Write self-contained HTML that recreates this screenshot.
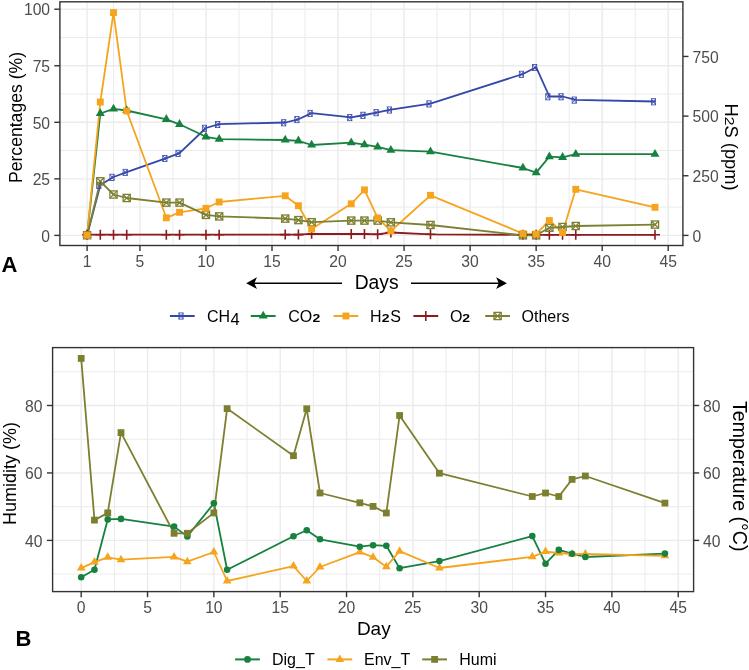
<!DOCTYPE html><html><head><meta charset="utf-8"><style>html,body{margin:0;padding:0;background:#fff;}svg{display:block;filter:blur(0.35px);}text{font-family:"Liberation Sans", sans-serif;}</style></head><body>
<svg width="749" height="670" viewBox="0 0 749 670">
<rect width="749" height="670" fill="#fff"/>
<g stroke="#EBEBEB">
<line x1="59.9" x2="682.9" y1="207.12" y2="207.12" stroke-width="1.0"/>
<line x1="59.9" x2="682.9" y1="150.57" y2="150.57" stroke-width="1.0"/>
<line x1="59.9" x2="682.9" y1="94.03" y2="94.03" stroke-width="1.0"/>
<line x1="59.9" x2="682.9" y1="37.47" y2="37.47" stroke-width="1.0"/>
<line y1="1.8" y2="245.5" x1="113.51" x2="113.51" stroke-width="1.0"/>
<line y1="1.8" y2="245.5" x1="172.95" x2="172.95" stroke-width="1.0"/>
<line y1="1.8" y2="245.5" x1="238.98" x2="238.98" stroke-width="1.0"/>
<line y1="1.8" y2="245.5" x1="305.02" x2="305.02" stroke-width="1.0"/>
<line y1="1.8" y2="245.5" x1="371.05" x2="371.05" stroke-width="1.0"/>
<line y1="1.8" y2="245.5" x1="437.09" x2="437.09" stroke-width="1.0"/>
<line y1="1.8" y2="245.5" x1="503.12" x2="503.12" stroke-width="1.0"/>
<line y1="1.8" y2="245.5" x1="569.16" x2="569.16" stroke-width="1.0"/>
<line y1="1.8" y2="245.5" x1="635.19" x2="635.19" stroke-width="1.0"/>
<line x1="59.9" x2="682.9" y1="235.4" y2="235.4" stroke-width="1.4"/>
<line x1="59.9" x2="682.9" y1="178.85" y2="178.85" stroke-width="1.4"/>
<line x1="59.9" x2="682.9" y1="122.3" y2="122.3" stroke-width="1.4"/>
<line x1="59.9" x2="682.9" y1="65.75" y2="65.75" stroke-width="1.4"/>
<line x1="59.9" x2="682.9" y1="9.2" y2="9.2" stroke-width="1.4"/>
<line y1="1.8" y2="245.5" x1="87.1" x2="87.1" stroke-width="1.4"/>
<line y1="1.8" y2="245.5" x1="139.93" x2="139.93" stroke-width="1.4"/>
<line y1="1.8" y2="245.5" x1="205.96" x2="205.96" stroke-width="1.4"/>
<line y1="1.8" y2="245.5" x1="272" x2="272" stroke-width="1.4"/>
<line y1="1.8" y2="245.5" x1="338.03" x2="338.03" stroke-width="1.4"/>
<line y1="1.8" y2="245.5" x1="404.07" x2="404.07" stroke-width="1.4"/>
<line y1="1.8" y2="245.5" x1="470.1" x2="470.1" stroke-width="1.4"/>
<line y1="1.8" y2="245.5" x1="536.14" x2="536.14" stroke-width="1.4"/>
<line y1="1.8" y2="245.5" x1="602.17" x2="602.17" stroke-width="1.4"/>
<line y1="1.8" y2="245.5" x1="668.21" x2="668.21" stroke-width="1.4"/>
</g>
<polyline points="87.1,235.3 100.31,185 113.51,177 126.72,172.1 166.34,158.2 179.55,153.1 205.96,128 219.17,124.2 285.21,122.5 298.41,119.3 311.62,113.1 351.24,117.3 364.45,115 377.65,112.4 390.86,109.7 430.48,103.6 522.93,74 536.14,67.2 549.35,96.5 562.55,96.5 575.76,99.8 655,101.5" fill="none" stroke="#3447A8" stroke-width="1.8" stroke-linejoin="round" stroke-linecap="butt"/>
<polyline points="87.1,235.3 100.31,113.5 113.51,108.9 126.72,110.5 166.34,119.3 179.55,124.3 205.96,136.8 219.17,139.1 285.21,140 298.41,140.8 311.62,145 351.24,142.7 364.45,144.6 377.65,146.9 390.86,150.1 430.48,151.6 522.93,168 536.14,172.6 549.35,156.6 562.55,157.3 575.76,154.2 655,154.2" fill="none" stroke="#17813F" stroke-width="1.8" stroke-linejoin="round" stroke-linecap="butt"/>
<polyline points="87.1,235.2 100.31,102 113.51,12.6 126.72,111 166.34,217.8 179.55,212.3 205.96,208.3 219.17,202 285.21,195.8 298.41,205.7 311.62,229 351.24,203.8 364.45,189.9 377.65,217.9 390.86,231 430.48,195.3 522.93,233.6 536.14,234.1 549.35,220.5 562.55,232.5 575.76,189.3 655,207.3" fill="none" stroke="#F6A41E" stroke-width="1.8" stroke-linejoin="round" stroke-linecap="butt"/>
<polyline points="87.1,234.7 100.31,234.7 113.51,234.7 126.72,234.7 166.34,234.7 179.55,234.7 205.96,234.7 219.17,234.7 285.21,234.6 298.41,234.6 311.62,233.8 351.24,234 364.45,234 377.65,234.3 390.86,232.5 430.48,234.3 522.93,234.8 536.14,234.8 549.35,234.8 562.55,234.8 575.76,234.8 655,234.8" fill="none" stroke="#8B1B1F" stroke-width="1.8" stroke-linejoin="round" stroke-linecap="butt"/>
<polyline points="87.1,235.2 100.31,181.3 113.51,194.5 126.72,198 166.34,202.6 179.55,202.6 205.96,214.9 219.17,216.4 285.21,218.6 298.41,220.1 311.62,222.2 351.24,220.6 364.45,220.6 377.65,220.6 390.86,222.3 430.48,225 522.93,235.3 536.14,235.3 549.35,227.8 562.55,227 575.76,226 655,224.6" fill="none" stroke="#7D8032" stroke-width="1.8" stroke-linejoin="round" stroke-linecap="butt"/>
<g stroke="#3447A8" stroke-width="0.8" fill="none"><rect x="83.5" y="232.5" width="4.2" height="6.2"/><path d="M83.5 232.5L87.7 238.7M83.5 238.7L87.7 232.5"/></g>
<g stroke="#3447A8" stroke-width="0.8" fill="none"><rect x="96.71" y="182.2" width="4.2" height="6.2"/><path d="M96.71 182.2L100.91 188.4M96.71 188.4L100.91 182.2"/></g>
<g stroke="#3447A8" stroke-width="0.8" fill="none"><rect x="109.91" y="174.2" width="4.2" height="6.2"/><path d="M109.91 174.2L114.11 180.4M109.91 180.4L114.11 174.2"/></g>
<g stroke="#3447A8" stroke-width="0.8" fill="none"><rect x="123.12" y="169.3" width="4.2" height="6.2"/><path d="M123.12 169.3L127.32 175.5M123.12 175.5L127.32 169.3"/></g>
<g stroke="#3447A8" stroke-width="0.8" fill="none"><rect x="162.74" y="155.4" width="4.2" height="6.2"/><path d="M162.74 155.4L166.94 161.6M162.74 161.6L166.94 155.4"/></g>
<g stroke="#3447A8" stroke-width="0.8" fill="none"><rect x="175.95" y="150.3" width="4.2" height="6.2"/><path d="M175.95 150.3L180.15 156.5M175.95 156.5L180.15 150.3"/></g>
<g stroke="#3447A8" stroke-width="0.8" fill="none"><rect x="202.36" y="125.2" width="4.2" height="6.2"/><path d="M202.36 125.2L206.56 131.4M202.36 131.4L206.56 125.2"/></g>
<g stroke="#3447A8" stroke-width="0.8" fill="none"><rect x="215.57" y="121.4" width="4.2" height="6.2"/><path d="M215.57 121.4L219.77 127.6M215.57 127.6L219.77 121.4"/></g>
<g stroke="#3447A8" stroke-width="0.8" fill="none"><rect x="281.61" y="119.7" width="4.2" height="6.2"/><path d="M281.61 119.7L285.81 125.9M281.61 125.9L285.81 119.7"/></g>
<g stroke="#3447A8" stroke-width="0.8" fill="none"><rect x="294.81" y="116.5" width="4.2" height="6.2"/><path d="M294.81 116.5L299.01 122.7M294.81 122.7L299.01 116.5"/></g>
<g stroke="#3447A8" stroke-width="0.8" fill="none"><rect x="308.02" y="110.3" width="4.2" height="6.2"/><path d="M308.02 110.3L312.22 116.5M308.02 116.5L312.22 110.3"/></g>
<g stroke="#3447A8" stroke-width="0.8" fill="none"><rect x="347.64" y="114.5" width="4.2" height="6.2"/><path d="M347.64 114.5L351.84 120.7M347.64 120.7L351.84 114.5"/></g>
<g stroke="#3447A8" stroke-width="0.8" fill="none"><rect x="360.85" y="112.2" width="4.2" height="6.2"/><path d="M360.85 112.2L365.05 118.4M360.85 118.4L365.05 112.2"/></g>
<g stroke="#3447A8" stroke-width="0.8" fill="none"><rect x="374.05" y="109.6" width="4.2" height="6.2"/><path d="M374.05 109.6L378.25 115.8M374.05 115.8L378.25 109.6"/></g>
<g stroke="#3447A8" stroke-width="0.8" fill="none"><rect x="387.26" y="106.9" width="4.2" height="6.2"/><path d="M387.26 106.9L391.46 113.1M387.26 113.1L391.46 106.9"/></g>
<g stroke="#3447A8" stroke-width="0.8" fill="none"><rect x="426.88" y="100.8" width="4.2" height="6.2"/><path d="M426.88 100.8L431.08 107M426.88 107L431.08 100.8"/></g>
<g stroke="#3447A8" stroke-width="0.8" fill="none"><rect x="519.33" y="71.2" width="4.2" height="6.2"/><path d="M519.33 71.2L523.53 77.4M519.33 77.4L523.53 71.2"/></g>
<g stroke="#3447A8" stroke-width="0.8" fill="none"><rect x="532.54" y="64.4" width="4.2" height="6.2"/><path d="M532.54 64.4L536.74 70.6M532.54 70.6L536.74 64.4"/></g>
<g stroke="#3447A8" stroke-width="0.8" fill="none"><rect x="545.75" y="93.7" width="4.2" height="6.2"/><path d="M545.75 93.7L549.95 99.9M545.75 99.9L549.95 93.7"/></g>
<g stroke="#3447A8" stroke-width="0.8" fill="none"><rect x="558.95" y="93.7" width="4.2" height="6.2"/><path d="M558.95 93.7L563.15 99.9M558.95 99.9L563.15 93.7"/></g>
<g stroke="#3447A8" stroke-width="0.8" fill="none"><rect x="572.16" y="97" width="4.2" height="6.2"/><path d="M572.16 97L576.36 103.2M572.16 103.2L576.36 97"/></g>
<g stroke="#3447A8" stroke-width="0.8" fill="none"><rect x="651.4" y="98.7" width="4.2" height="6.2"/><path d="M651.4 98.7L655.6 104.9M651.4 104.9L655.6 98.7"/></g>
<polygon points="87.1,230.1 91.6,237.9 82.6,237.9" fill="#17813F"/>
<polygon points="100.31,108.3 104.81,116.1 95.8,116.1" fill="#17813F"/>
<polygon points="113.51,103.7 118.02,111.5 109.01,111.5" fill="#17813F"/>
<polygon points="126.72,105.3 131.22,113.1 122.22,113.1" fill="#17813F"/>
<polygon points="166.34,114.1 170.85,121.9 161.84,121.9" fill="#17813F"/>
<polygon points="179.55,119.1 184.05,126.9 175.05,126.9" fill="#17813F"/>
<polygon points="205.96,131.6 210.47,139.4 201.46,139.4" fill="#17813F"/>
<polygon points="219.17,133.9 223.67,141.7 214.67,141.7" fill="#17813F"/>
<polygon points="285.21,134.8 289.71,142.6 280.7,142.6" fill="#17813F"/>
<polygon points="298.41,135.6 302.92,143.4 293.91,143.4" fill="#17813F"/>
<polygon points="311.62,139.8 316.12,147.6 307.12,147.6" fill="#17813F"/>
<polygon points="351.24,137.5 355.74,145.3 346.74,145.3" fill="#17813F"/>
<polygon points="364.45,139.4 368.95,147.2 359.94,147.2" fill="#17813F"/>
<polygon points="377.65,141.7 382.16,149.5 373.15,149.5" fill="#17813F"/>
<polygon points="390.86,144.9 395.36,152.7 386.36,152.7" fill="#17813F"/>
<polygon points="430.48,146.4 434.99,154.2 425.98,154.2" fill="#17813F"/>
<polygon points="522.93,162.8 527.43,170.6 518.43,170.6" fill="#17813F"/>
<polygon points="536.14,167.4 540.64,175.2 531.63,175.2" fill="#17813F"/>
<polygon points="549.35,151.4 553.85,159.2 544.84,159.2" fill="#17813F"/>
<polygon points="562.55,152.1 567.06,159.9 558.05,159.9" fill="#17813F"/>
<polygon points="575.76,149 580.26,156.8 571.26,156.8" fill="#17813F"/>
<polygon points="655,149 659.5,156.8 650.5,156.8" fill="#17813F"/>
<path d="M82.1 234.7L92.1 234.7M87.1 229.7L87.1 239.7" stroke="#8B1B1F" stroke-width="1.6"/>
<path d="M95.31 234.7L105.31 234.7M100.31 229.7L100.31 239.7" stroke="#8B1B1F" stroke-width="1.6"/>
<path d="M108.51 234.7L118.51 234.7M113.51 229.7L113.51 239.7" stroke="#8B1B1F" stroke-width="1.6"/>
<path d="M121.72 234.7L131.72 234.7M126.72 229.7L126.72 239.7" stroke="#8B1B1F" stroke-width="1.6"/>
<path d="M161.34 234.7L171.34 234.7M166.34 229.7L166.34 239.7" stroke="#8B1B1F" stroke-width="1.6"/>
<path d="M174.55 234.7L184.55 234.7M179.55 229.7L179.55 239.7" stroke="#8B1B1F" stroke-width="1.6"/>
<path d="M200.96 234.7L210.96 234.7M205.96 229.7L205.96 239.7" stroke="#8B1B1F" stroke-width="1.6"/>
<path d="M214.17 234.7L224.17 234.7M219.17 229.7L219.17 239.7" stroke="#8B1B1F" stroke-width="1.6"/>
<path d="M280.21 234.6L290.21 234.6M285.21 229.6L285.21 239.6" stroke="#8B1B1F" stroke-width="1.6"/>
<path d="M293.41 234.6L303.41 234.6M298.41 229.6L298.41 239.6" stroke="#8B1B1F" stroke-width="1.6"/>
<path d="M306.62 233.8L316.62 233.8M311.62 228.8L311.62 238.8" stroke="#8B1B1F" stroke-width="1.6"/>
<path d="M346.24 234L356.24 234M351.24 229L351.24 239" stroke="#8B1B1F" stroke-width="1.6"/>
<path d="M359.45 234L369.45 234M364.45 229L364.45 239" stroke="#8B1B1F" stroke-width="1.6"/>
<path d="M372.65 234.3L382.65 234.3M377.65 229.3L377.65 239.3" stroke="#8B1B1F" stroke-width="1.6"/>
<path d="M385.86 232.5L395.86 232.5M390.86 227.5L390.86 237.5" stroke="#8B1B1F" stroke-width="1.6"/>
<path d="M425.48 234.3L435.48 234.3M430.48 229.3L430.48 239.3" stroke="#8B1B1F" stroke-width="1.6"/>
<path d="M517.93 234.8L527.93 234.8M522.93 229.8L522.93 239.8" stroke="#8B1B1F" stroke-width="1.6"/>
<path d="M531.14 234.8L541.14 234.8M536.14 229.8L536.14 239.8" stroke="#8B1B1F" stroke-width="1.6"/>
<path d="M544.35 234.8L554.35 234.8M549.35 229.8L549.35 239.8" stroke="#8B1B1F" stroke-width="1.6"/>
<path d="M557.55 234.8L567.55 234.8M562.55 229.8L562.55 239.8" stroke="#8B1B1F" stroke-width="1.6"/>
<path d="M570.76 234.8L580.76 234.8M575.76 229.8L575.76 239.8" stroke="#8B1B1F" stroke-width="1.6"/>
<path d="M650 234.8L660 234.8M655 229.8L655 239.8" stroke="#8B1B1F" stroke-width="1.6"/>
<g stroke="#7D8032" stroke-width="1.3" fill="none"><rect x="83.5" y="231.6" width="7.2" height="7.2"/><path d="M83.5 231.6L90.7 238.8M83.5 238.8L90.7 231.6"/></g>
<g stroke="#7D8032" stroke-width="1.3" fill="none"><rect x="96.71" y="177.7" width="7.2" height="7.2"/><path d="M96.71 177.7L103.91 184.9M96.71 184.9L103.91 177.7"/></g>
<g stroke="#7D8032" stroke-width="1.3" fill="none"><rect x="109.91" y="190.9" width="7.2" height="7.2"/><path d="M109.91 190.9L117.11 198.1M109.91 198.1L117.11 190.9"/></g>
<g stroke="#7D8032" stroke-width="1.3" fill="none"><rect x="123.12" y="194.4" width="7.2" height="7.2"/><path d="M123.12 194.4L130.32 201.6M123.12 201.6L130.32 194.4"/></g>
<g stroke="#7D8032" stroke-width="1.3" fill="none"><rect x="162.74" y="199" width="7.2" height="7.2"/><path d="M162.74 199L169.94 206.2M162.74 206.2L169.94 199"/></g>
<g stroke="#7D8032" stroke-width="1.3" fill="none"><rect x="175.95" y="199" width="7.2" height="7.2"/><path d="M175.95 199L183.15 206.2M175.95 206.2L183.15 199"/></g>
<g stroke="#7D8032" stroke-width="1.3" fill="none"><rect x="202.36" y="211.3" width="7.2" height="7.2"/><path d="M202.36 211.3L209.56 218.5M202.36 218.5L209.56 211.3"/></g>
<g stroke="#7D8032" stroke-width="1.3" fill="none"><rect x="215.57" y="212.8" width="7.2" height="7.2"/><path d="M215.57 212.8L222.77 220M215.57 220L222.77 212.8"/></g>
<g stroke="#7D8032" stroke-width="1.3" fill="none"><rect x="281.61" y="215" width="7.2" height="7.2"/><path d="M281.61 215L288.81 222.2M281.61 222.2L288.81 215"/></g>
<g stroke="#7D8032" stroke-width="1.3" fill="none"><rect x="294.81" y="216.5" width="7.2" height="7.2"/><path d="M294.81 216.5L302.01 223.7M294.81 223.7L302.01 216.5"/></g>
<g stroke="#7D8032" stroke-width="1.3" fill="none"><rect x="308.02" y="218.6" width="7.2" height="7.2"/><path d="M308.02 218.6L315.22 225.8M308.02 225.8L315.22 218.6"/></g>
<g stroke="#7D8032" stroke-width="1.3" fill="none"><rect x="347.64" y="217" width="7.2" height="7.2"/><path d="M347.64 217L354.84 224.2M347.64 224.2L354.84 217"/></g>
<g stroke="#7D8032" stroke-width="1.3" fill="none"><rect x="360.85" y="217" width="7.2" height="7.2"/><path d="M360.85 217L368.05 224.2M360.85 224.2L368.05 217"/></g>
<g stroke="#7D8032" stroke-width="1.3" fill="none"><rect x="374.05" y="217" width="7.2" height="7.2"/><path d="M374.05 217L381.25 224.2M374.05 224.2L381.25 217"/></g>
<g stroke="#7D8032" stroke-width="1.3" fill="none"><rect x="387.26" y="218.7" width="7.2" height="7.2"/><path d="M387.26 218.7L394.46 225.9M387.26 225.9L394.46 218.7"/></g>
<g stroke="#7D8032" stroke-width="1.3" fill="none"><rect x="426.88" y="221.4" width="7.2" height="7.2"/><path d="M426.88 221.4L434.08 228.6M426.88 228.6L434.08 221.4"/></g>
<g stroke="#7D8032" stroke-width="1.3" fill="none"><rect x="519.33" y="231.7" width="7.2" height="7.2"/><path d="M519.33 231.7L526.53 238.9M519.33 238.9L526.53 231.7"/></g>
<g stroke="#7D8032" stroke-width="1.3" fill="none"><rect x="532.54" y="231.7" width="7.2" height="7.2"/><path d="M532.54 231.7L539.74 238.9M532.54 238.9L539.74 231.7"/></g>
<g stroke="#7D8032" stroke-width="1.3" fill="none"><rect x="545.75" y="224.2" width="7.2" height="7.2"/><path d="M545.75 224.2L552.95 231.4M545.75 231.4L552.95 224.2"/></g>
<g stroke="#7D8032" stroke-width="1.3" fill="none"><rect x="558.95" y="223.4" width="7.2" height="7.2"/><path d="M558.95 223.4L566.15 230.6M558.95 230.6L566.15 223.4"/></g>
<g stroke="#7D8032" stroke-width="1.3" fill="none"><rect x="572.16" y="222.4" width="7.2" height="7.2"/><path d="M572.16 222.4L579.36 229.6M572.16 229.6L579.36 222.4"/></g>
<g stroke="#7D8032" stroke-width="1.3" fill="none"><rect x="651.4" y="221" width="7.2" height="7.2"/><path d="M651.4 221L658.6 228.2M651.4 228.2L658.6 221"/></g>
<rect x="83.65" y="231.75" width="6.9" height="6.9" fill="#F6A41E"/>
<rect x="96.86" y="98.55" width="6.9" height="6.9" fill="#F6A41E"/>
<rect x="110.06" y="9.15" width="6.9" height="6.9" fill="#F6A41E"/>
<rect x="123.27" y="107.55" width="6.9" height="6.9" fill="#F6A41E"/>
<rect x="162.89" y="214.35" width="6.9" height="6.9" fill="#F6A41E"/>
<rect x="176.1" y="208.85" width="6.9" height="6.9" fill="#F6A41E"/>
<rect x="202.51" y="204.85" width="6.9" height="6.9" fill="#F6A41E"/>
<rect x="215.72" y="198.55" width="6.9" height="6.9" fill="#F6A41E"/>
<rect x="281.76" y="192.35" width="6.9" height="6.9" fill="#F6A41E"/>
<rect x="294.96" y="202.25" width="6.9" height="6.9" fill="#F6A41E"/>
<rect x="308.17" y="225.55" width="6.9" height="6.9" fill="#F6A41E"/>
<rect x="347.79" y="200.35" width="6.9" height="6.9" fill="#F6A41E"/>
<rect x="361" y="186.45" width="6.9" height="6.9" fill="#F6A41E"/>
<rect x="374.2" y="214.45" width="6.9" height="6.9" fill="#F6A41E"/>
<rect x="387.41" y="227.55" width="6.9" height="6.9" fill="#F6A41E"/>
<rect x="427.03" y="191.85" width="6.9" height="6.9" fill="#F6A41E"/>
<rect x="519.48" y="230.15" width="6.9" height="6.9" fill="#F6A41E"/>
<rect x="532.69" y="230.65" width="6.9" height="6.9" fill="#F6A41E"/>
<rect x="545.89" y="217.05" width="6.9" height="6.9" fill="#F6A41E"/>
<rect x="559.1" y="229.05" width="6.9" height="6.9" fill="#F6A41E"/>
<rect x="572.31" y="185.85" width="6.9" height="6.9" fill="#F6A41E"/>
<rect x="651.55" y="203.85" width="6.9" height="6.9" fill="#F6A41E"/>
<rect x="59.9" y="1.8" width="623" height="243.7" fill="none" stroke="#333333" stroke-width="1.4"/>
<g stroke="#333333" stroke-width="1.4">
<line x1="54.3" x2="59.9" y1="235.4" y2="235.4"/>
<line x1="54.3" x2="59.9" y1="178.85" y2="178.85"/>
<line x1="54.3" x2="59.9" y1="122.3" y2="122.3"/>
<line x1="54.3" x2="59.9" y1="65.75" y2="65.75"/>
<line x1="54.3" x2="59.9" y1="9.2" y2="9.2"/>
<line x1="682.9" x2="688.5" y1="235.4" y2="235.4"/>
<line x1="682.9" x2="688.5" y1="175.75" y2="175.75"/>
<line x1="682.9" x2="688.5" y1="116.1" y2="116.1"/>
<line x1="682.9" x2="688.5" y1="56.45" y2="56.45"/>
<line y1="245.5" y2="251.1" x1="87.1" x2="87.1"/>
<line y1="245.5" y2="251.1" x1="139.93" x2="139.93"/>
<line y1="245.5" y2="251.1" x1="205.96" x2="205.96"/>
<line y1="245.5" y2="251.1" x1="272" x2="272"/>
<line y1="245.5" y2="251.1" x1="338.03" x2="338.03"/>
<line y1="245.5" y2="251.1" x1="404.07" x2="404.07"/>
<line y1="245.5" y2="251.1" x1="470.1" x2="470.1"/>
<line y1="245.5" y2="251.1" x1="536.14" x2="536.14"/>
<line y1="245.5" y2="251.1" x1="602.17" x2="602.17"/>
<line y1="245.5" y2="251.1" x1="668.21" x2="668.21"/>
</g>
<g fill="#4D4D4D" font-size="15.7">
<text x="50.1" y="241.6" text-anchor="end">0</text>
<text x="50.1" y="185.05" text-anchor="end">25</text>
<text x="50.1" y="128.5" text-anchor="end">50</text>
<text x="50.1" y="71.95" text-anchor="end">75</text>
<text x="50.1" y="15.4" text-anchor="end">100</text>
<text x="692.5" y="241.6">0</text>
<text x="692.5" y="181.95">250</text>
<text x="692.5" y="122.3">500</text>
<text x="692.5" y="62.65">750</text>
<text x="87.1" y="266.5" text-anchor="middle">1</text>
<text x="139.93" y="266.5" text-anchor="middle">5</text>
<text x="205.96" y="266.5" text-anchor="middle">10</text>
<text x="272" y="266.5" text-anchor="middle">15</text>
<text x="338.03" y="266.5" text-anchor="middle">20</text>
<text x="404.07" y="266.5" text-anchor="middle">25</text>
<text x="470.1" y="266.5" text-anchor="middle">30</text>
<text x="536.14" y="266.5" text-anchor="middle">35</text>
<text x="602.17" y="266.5" text-anchor="middle">40</text>
<text x="668.21" y="266.5" text-anchor="middle">45</text>
</g>
<text transform="translate(22.3,117.5) rotate(-90)" text-anchor="middle" font-size="17.6" fill="#000">Percentages (%)</text>
<g transform="translate(725.4,0) rotate(90)" font-size="18.3" fill="#000"><text x="103.6" y="0">H</text><text transform="translate(116.8,0) scale(1.28,1)" font-size="12.4">2</text><text x="125.6" y="0">S (ppm)</text></g>
<text x="1.4" y="271.9" font-size="22" font-weight="bold" fill="#000">A</text>
<text x="376.6" y="288.6" text-anchor="middle" font-size="19.3" fill="#000">Days</text>
<g stroke="#000" stroke-width="1.4"><line x1="252" x2="342" y1="283.2" y2="283.2"/><line x1="411" x2="501" y1="283.2" y2="283.2"/></g>
<polygon points="246.2,283.2 257,277.3 254.3,283.2 257,289.1" fill="#000"/>
<polygon points="506.9,283.2 496.1,277.3 498.8,283.2 496.1,289.1" fill="#000"/>
<line x1="169.9" x2="194.70000000000002" y1="316" y2="316" stroke="#3447A8" stroke-width="2"/>
<g stroke="#3447A8" stroke-width="0.8" fill="none"><rect x="178.9" y="312.9" width="4.2" height="6.2"/><path d="M178.9 312.9L183.1 319.1M178.9 319.1L183.1 312.9"/></g>
<line x1="250.8" x2="275.6" y1="316" y2="316" stroke="#17813F" stroke-width="2"/>
<polygon points="263.2,310.8 267.7,318.6 258.7,318.6" fill="#17813F"/>
<line x1="333.5" x2="358.3" y1="316" y2="316" stroke="#F6A41E" stroke-width="2"/>
<rect x="342.45" y="312.55" width="6.9" height="6.9" fill="#F6A41E"/>
<line x1="413.4" x2="438.2" y1="316" y2="316" stroke="#8B1B1F" stroke-width="2"/>
<path d="M420.8 316L430.8 316M425.8 311L425.8 321" stroke="#8B1B1F" stroke-width="1.6"/>
<line x1="485.2" x2="510.0" y1="316" y2="316" stroke="#7D8032" stroke-width="2"/>
<g stroke="#7D8032" stroke-width="1.3" fill="none"><rect x="494" y="312.4" width="7.2" height="7.2"/><path d="M494 312.4L501.2 319.6M494 319.6L501.2 312.4"/></g>
<g font-size="16" fill="#000">
<text x="207" y="322">CH</text><text x="230.6" y="325" font-size="16.5">4</text>
<text x="288.3" y="322">CO</text><text transform="translate(312.4,322) scale(1.25,1)" font-size="11.2" font-weight="bold">2</text>
<text x="369.9" y="322">H</text><text transform="translate(381.8,322) scale(1.25,1)" font-size="11.2" font-weight="bold">2</text><text x="390.2" y="322">S</text>
<text x="450" y="322">O</text><text transform="translate(462.2,322) scale(1.25,1)" font-size="11.2" font-weight="bold">2</text>
<text x="521.5" y="322">Others</text>
</g>
<g stroke="#EBEBEB">
<line x1="52.6" x2="693.6" y1="574.12" y2="574.12" stroke-width="1.0"/>
<line x1="52.6" x2="693.6" y1="506.67" y2="506.67" stroke-width="1.0"/>
<line x1="52.6" x2="693.6" y1="439.22" y2="439.22" stroke-width="1.0"/>
<line x1="52.6" x2="693.6" y1="371.77" y2="371.77" stroke-width="1.0"/>
<line y1="347.6" y2="591.6" x1="114.37" x2="114.37" stroke-width="1.0"/>
<line y1="347.6" y2="591.6" x1="180.7" x2="180.7" stroke-width="1.0"/>
<line y1="347.6" y2="591.6" x1="247.04" x2="247.04" stroke-width="1.0"/>
<line y1="347.6" y2="591.6" x1="313.37" x2="313.37" stroke-width="1.0"/>
<line y1="347.6" y2="591.6" x1="379.71" x2="379.71" stroke-width="1.0"/>
<line y1="347.6" y2="591.6" x1="446.04" x2="446.04" stroke-width="1.0"/>
<line y1="347.6" y2="591.6" x1="512.38" x2="512.38" stroke-width="1.0"/>
<line y1="347.6" y2="591.6" x1="578.71" x2="578.71" stroke-width="1.0"/>
<line y1="347.6" y2="591.6" x1="645.05" x2="645.05" stroke-width="1.0"/>
<line x1="52.6" x2="693.6" y1="540.4" y2="540.4" stroke-width="1.4"/>
<line x1="52.6" x2="693.6" y1="472.95" y2="472.95" stroke-width="1.4"/>
<line x1="52.6" x2="693.6" y1="405.5" y2="405.5" stroke-width="1.4"/>
<line y1="347.6" y2="591.6" x1="81.2" x2="81.2" stroke-width="1.4"/>
<line y1="347.6" y2="591.6" x1="147.53" x2="147.53" stroke-width="1.4"/>
<line y1="347.6" y2="591.6" x1="213.87" x2="213.87" stroke-width="1.4"/>
<line y1="347.6" y2="591.6" x1="280.2" x2="280.2" stroke-width="1.4"/>
<line y1="347.6" y2="591.6" x1="346.54" x2="346.54" stroke-width="1.4"/>
<line y1="347.6" y2="591.6" x1="412.88" x2="412.88" stroke-width="1.4"/>
<line y1="347.6" y2="591.6" x1="479.21" x2="479.21" stroke-width="1.4"/>
<line y1="347.6" y2="591.6" x1="545.54" x2="545.54" stroke-width="1.4"/>
<line y1="347.6" y2="591.6" x1="611.88" x2="611.88" stroke-width="1.4"/>
<line y1="347.6" y2="591.6" x1="678.22" x2="678.22" stroke-width="1.4"/>
</g>
<polyline points="81.2,577.3 94.47,569.8 107.73,519.4 121,518.9 174.07,526.6 187.34,536.4 213.87,503.3 227.14,569.8 293.47,536.3 306.74,530.3 320.01,539.3 359.81,546.7 373.07,545.2 386.34,545.8 399.61,568.2 439.41,561.1 532.28,536.1 545.54,563.7 558.81,549.9 572.08,553.7 585.35,557 664.95,553.6" fill="none" stroke="#17813F" stroke-width="1.8" stroke-linejoin="round" stroke-linecap="butt"/>
<polyline points="81.2,568.1 94.47,562.1 107.73,557.3 121,559.7 174.07,556.9 187.34,561.7 213.87,552 227.14,581 293.47,566.1 306.74,581 320.01,567 359.81,552.1 373.07,557.2 386.34,566.7 399.61,551.2 439.41,568 532.28,556.8 545.54,551.6 558.81,553 572.08,554 585.35,554 664.95,555.8" fill="none" stroke="#F6A41E" stroke-width="1.8" stroke-linejoin="round" stroke-linecap="butt"/>
<polyline points="81.2,358.4 94.47,520.1 107.73,512.9 121,432.6 174.07,533.3 187.34,533.3 213.87,512.9 227.14,408.6 293.47,455.7 306.74,408.8 320.01,493 359.81,502.8 373.07,506.4 386.34,513 399.61,415.5 439.41,473.2 532.28,496.5 545.54,493 558.81,496.5 572.08,479.4 585.35,476 664.95,503.1" fill="none" stroke="#7D7F30" stroke-width="1.8" stroke-linejoin="round" stroke-linecap="butt"/>
<polygon points="81.2,563.1 85.53,570.6 76.87,570.6" fill="#F6A41E"/>
<polygon points="94.47,557.1 98.8,564.6 90.14,564.6" fill="#F6A41E"/>
<polygon points="107.73,552.3 112.06,559.8 103.4,559.8" fill="#F6A41E"/>
<polygon points="121,554.7 125.33,562.2 116.67,562.2" fill="#F6A41E"/>
<polygon points="174.07,551.9 178.4,559.4 169.74,559.4" fill="#F6A41E"/>
<polygon points="187.34,556.7 191.67,564.2 183.01,564.2" fill="#F6A41E"/>
<polygon points="213.87,547 218.2,554.5 209.54,554.5" fill="#F6A41E"/>
<polygon points="227.14,576 231.47,583.5 222.81,583.5" fill="#F6A41E"/>
<polygon points="293.47,561.1 297.8,568.6 289.14,568.6" fill="#F6A41E"/>
<polygon points="306.74,576 311.07,583.5 302.41,583.5" fill="#F6A41E"/>
<polygon points="320.01,562 324.34,569.5 315.68,569.5" fill="#F6A41E"/>
<polygon points="359.81,547.1 364.14,554.6 355.48,554.6" fill="#F6A41E"/>
<polygon points="373.07,552.2 377.4,559.7 368.74,559.7" fill="#F6A41E"/>
<polygon points="386.34,561.7 390.67,569.2 382.01,569.2" fill="#F6A41E"/>
<polygon points="399.61,546.2 403.94,553.7 395.28,553.7" fill="#F6A41E"/>
<polygon points="439.41,563 443.74,570.5 435.08,570.5" fill="#F6A41E"/>
<polygon points="532.28,551.8 536.61,559.3 527.95,559.3" fill="#F6A41E"/>
<polygon points="545.54,546.6 549.88,554.1 541.21,554.1" fill="#F6A41E"/>
<polygon points="558.81,548 563.14,555.5 554.48,555.5" fill="#F6A41E"/>
<polygon points="572.08,549 576.41,556.5 567.75,556.5" fill="#F6A41E"/>
<polygon points="585.35,549 589.68,556.5 581.02,556.5" fill="#F6A41E"/>
<polygon points="664.95,550.8 669.28,558.3 660.62,558.3" fill="#F6A41E"/>
<circle cx="81.2" cy="577.3" r="3.3" fill="#17813F"/>
<circle cx="94.47" cy="569.8" r="3.3" fill="#17813F"/>
<circle cx="107.73" cy="519.4" r="3.3" fill="#17813F"/>
<circle cx="121" cy="518.9" r="3.3" fill="#17813F"/>
<circle cx="174.07" cy="526.6" r="3.3" fill="#17813F"/>
<circle cx="187.34" cy="536.4" r="3.3" fill="#17813F"/>
<circle cx="213.87" cy="503.3" r="3.3" fill="#17813F"/>
<circle cx="227.14" cy="569.8" r="3.3" fill="#17813F"/>
<circle cx="293.47" cy="536.3" r="3.3" fill="#17813F"/>
<circle cx="306.74" cy="530.3" r="3.3" fill="#17813F"/>
<circle cx="320.01" cy="539.3" r="3.3" fill="#17813F"/>
<circle cx="359.81" cy="546.7" r="3.3" fill="#17813F"/>
<circle cx="373.07" cy="545.2" r="3.3" fill="#17813F"/>
<circle cx="386.34" cy="545.8" r="3.3" fill="#17813F"/>
<circle cx="399.61" cy="568.2" r="3.3" fill="#17813F"/>
<circle cx="439.41" cy="561.1" r="3.3" fill="#17813F"/>
<circle cx="532.28" cy="536.1" r="3.3" fill="#17813F"/>
<circle cx="545.54" cy="563.7" r="3.3" fill="#17813F"/>
<circle cx="558.81" cy="549.9" r="3.3" fill="#17813F"/>
<circle cx="572.08" cy="553.7" r="3.3" fill="#17813F"/>
<circle cx="585.35" cy="557" r="3.3" fill="#17813F"/>
<circle cx="664.95" cy="553.6" r="3.3" fill="#17813F"/>
<rect x="77.8" y="355" width="6.8" height="6.8" fill="#7D7F30"/>
<rect x="91.07" y="516.7" width="6.8" height="6.8" fill="#7D7F30"/>
<rect x="104.33" y="509.5" width="6.8" height="6.8" fill="#7D7F30"/>
<rect x="117.6" y="429.2" width="6.8" height="6.8" fill="#7D7F30"/>
<rect x="170.67" y="529.9" width="6.8" height="6.8" fill="#7D7F30"/>
<rect x="183.94" y="529.9" width="6.8" height="6.8" fill="#7D7F30"/>
<rect x="210.47" y="509.5" width="6.8" height="6.8" fill="#7D7F30"/>
<rect x="223.74" y="405.2" width="6.8" height="6.8" fill="#7D7F30"/>
<rect x="290.07" y="452.3" width="6.8" height="6.8" fill="#7D7F30"/>
<rect x="303.34" y="405.4" width="6.8" height="6.8" fill="#7D7F30"/>
<rect x="316.61" y="489.6" width="6.8" height="6.8" fill="#7D7F30"/>
<rect x="356.41" y="499.4" width="6.8" height="6.8" fill="#7D7F30"/>
<rect x="369.67" y="503" width="6.8" height="6.8" fill="#7D7F30"/>
<rect x="382.94" y="509.6" width="6.8" height="6.8" fill="#7D7F30"/>
<rect x="396.21" y="412.1" width="6.8" height="6.8" fill="#7D7F30"/>
<rect x="436.01" y="469.8" width="6.8" height="6.8" fill="#7D7F30"/>
<rect x="528.88" y="493.1" width="6.8" height="6.8" fill="#7D7F30"/>
<rect x="542.14" y="489.6" width="6.8" height="6.8" fill="#7D7F30"/>
<rect x="555.41" y="493.1" width="6.8" height="6.8" fill="#7D7F30"/>
<rect x="568.68" y="476" width="6.8" height="6.8" fill="#7D7F30"/>
<rect x="581.95" y="472.6" width="6.8" height="6.8" fill="#7D7F30"/>
<rect x="661.55" y="499.7" width="6.8" height="6.8" fill="#7D7F30"/>
<rect x="52.6" y="347.6" width="641" height="244" fill="none" stroke="#333333" stroke-width="1.4"/>
<g stroke="#333333" stroke-width="1.4">
<line x1="47" x2="52.6" y1="540.4" y2="540.4"/>
<line x1="693.6" x2="699.2" y1="540.4" y2="540.4"/>
<line x1="47" x2="52.6" y1="472.95" y2="472.95"/>
<line x1="693.6" x2="699.2" y1="472.95" y2="472.95"/>
<line x1="47" x2="52.6" y1="405.5" y2="405.5"/>
<line x1="693.6" x2="699.2" y1="405.5" y2="405.5"/>
<line y1="591.6" y2="597.2" x1="81.2" x2="81.2"/>
<line y1="591.6" y2="597.2" x1="147.53" x2="147.53"/>
<line y1="591.6" y2="597.2" x1="213.87" x2="213.87"/>
<line y1="591.6" y2="597.2" x1="280.2" x2="280.2"/>
<line y1="591.6" y2="597.2" x1="346.54" x2="346.54"/>
<line y1="591.6" y2="597.2" x1="412.88" x2="412.88"/>
<line y1="591.6" y2="597.2" x1="479.21" x2="479.21"/>
<line y1="591.6" y2="597.2" x1="545.54" x2="545.54"/>
<line y1="591.6" y2="597.2" x1="611.88" x2="611.88"/>
<line y1="591.6" y2="597.2" x1="678.22" x2="678.22"/>
</g>
<g fill="#4D4D4D" font-size="15.7">
<text x="42.5" y="546.6" text-anchor="end">40</text>
<text x="703" y="546.6">40</text>
<text x="42.5" y="479.15" text-anchor="end">60</text>
<text x="703" y="479.15">60</text>
<text x="42.5" y="411.7" text-anchor="end">80</text>
<text x="703" y="411.7">80</text>
<text x="81.2" y="612.5" text-anchor="middle">0</text>
<text x="147.53" y="612.5" text-anchor="middle">5</text>
<text x="213.87" y="612.5" text-anchor="middle">10</text>
<text x="280.2" y="612.5" text-anchor="middle">15</text>
<text x="346.54" y="612.5" text-anchor="middle">20</text>
<text x="412.88" y="612.5" text-anchor="middle">25</text>
<text x="479.21" y="612.5" text-anchor="middle">30</text>
<text x="545.54" y="612.5" text-anchor="middle">35</text>
<text x="611.88" y="612.5" text-anchor="middle">40</text>
<text x="678.22" y="612.5" text-anchor="middle">45</text>
</g>
<text transform="translate(16.4,473.6) rotate(-90)" text-anchor="middle" font-size="18" fill="#000">Humidity (%)</text>
<text transform="translate(733.4,476.3) rotate(90)" text-anchor="middle" font-size="19.6" fill="#000">Temperature (°C)</text>
<text x="373.8" y="634.8" text-anchor="middle" font-size="19" fill="#000">Day</text>
<text x="15.6" y="646.3" font-size="22" font-weight="bold" fill="#000">B</text>
<line x1="235.1" x2="259.9" y1="659.4" y2="659.4" stroke="#17813F" stroke-width="2"/>
<circle cx="247.5" cy="659.4" r="3.4" fill="#17813F"/>
<line x1="327.4" x2="352.2" y1="659.4" y2="659.4" stroke="#F6A41E" stroke-width="2"/>
<polygon points="339.8,654.4 344.13,661.9 335.47,661.9" fill="#F6A41E"/>
<line x1="422.2" x2="447" y1="659.4" y2="659.4" stroke="#7D7F30" stroke-width="2"/>
<rect x="431.2" y="656" width="6.8" height="6.8" fill="#7D7F30"/>
<g font-size="16" fill="#000">
<text x="272" y="665">Dig_T</text>
<text x="364" y="665">Env_T</text>
<text x="459.3" y="665">Humi</text>
</g>
</svg></body></html>
